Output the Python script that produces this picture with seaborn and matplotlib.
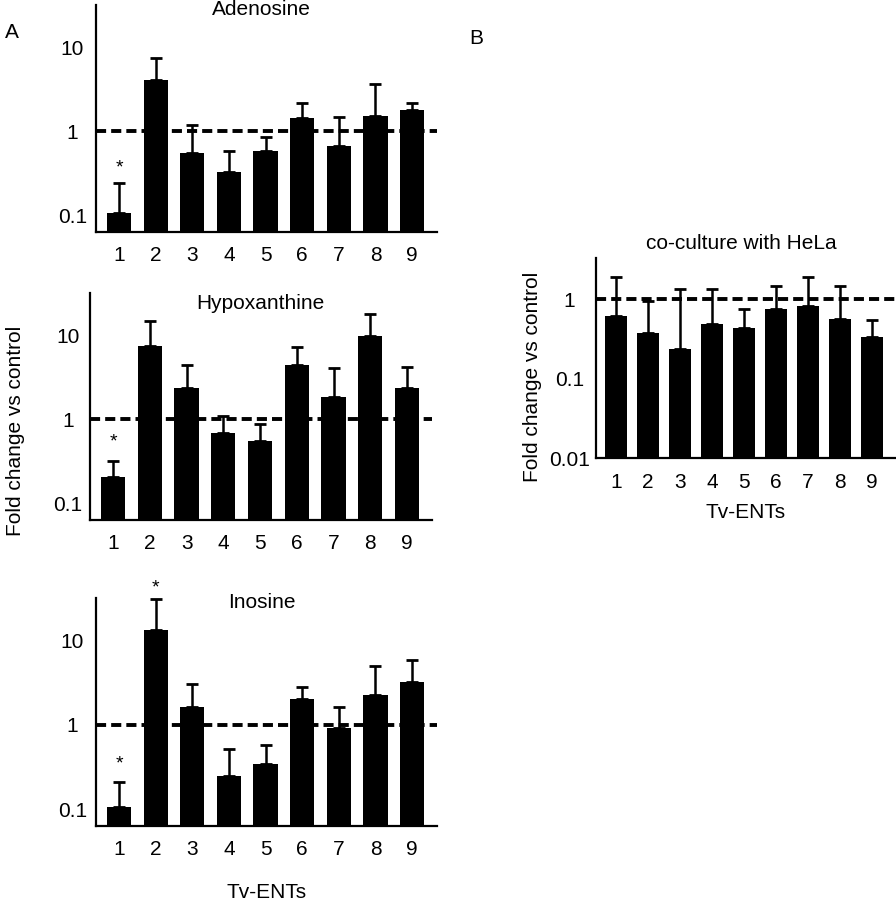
import numpy as np
import matplotlib
matplotlib.use('Agg')
import matplotlib.pyplot as plt
import seaborn as sns

# Tv-ENT isoforms
ents = ['1', '2', '3', '4', '5', '6', '7', '8', '9']

# panel A: fold change (bar) and top of error bar
adenosine = [0.106, 4.05, 0.55, 0.33, 0.59, 1.43, 0.66, 1.51, 1.78]
adenosine_top = [0.24, 7.4, 1.18, 0.59, 0.85, 2.15, 1.47, 3.7, 2.2]
hypoxanthine = [0.205, 7.5, 2.33, 0.69, 0.55, 4.46, 1.85, 9.8, 2.33]
hypoxanthine_top = [0.32, 14.7, 4.46, 1.08, 0.87, 7.3, 4.1, 17.8, 4.26]
inosine = [0.107, 13.5, 1.61, 0.25, 0.34, 2.04, 0.91, 2.28, 3.19]
inosine_top = [0.21, 31.0, 3.05, 0.51, 0.57, 2.78, 1.64, 4.99, 5.94]

# panel B: co-culture with HeLa
hela = [0.62, 0.37, 0.237, 0.49, 0.43, 0.755, 0.82, 0.57, 0.33]
hela_top = [1.93, 0.95, 1.34, 1.34, 0.755, 1.47, 1.93, 1.47, 0.55]

# significance stars: (bar index, y position)
stars_adenosine = [(0, 0.37)]
stars_hypoxanthine = [(0, 0.53)]
stars_inosine = [(0, 0.34), (1, 42.0)]

sns.set_style('white')
plt.rcParams['font.family'] = ['Liberation Sans', 'DejaVu Sans']
plt.rcParams['text.color'] = 'black'
plt.rcParams['xtick.color'] = 'black'
plt.rcParams['ytick.color'] = 'black'
plt.rcParams['axes.labelcolor'] = 'black'
FS = 15


def bar_panel(ax, vals, tops, ylim, yticks, ytlabels, width, xlim, ypad):
    sns.barplot(x=ents, y=vals, color='black', saturation=1, width=width,
                errorbar=None, ax=ax, zorder=2, linewidth=0, edgecolor='black')
    ax.set_yscale('log')
    vals = np.array(vals)
    tops = np.array(tops)
    ax.errorbar(np.arange(len(vals)), vals, yerr=[np.zeros(len(vals)), tops - vals],
                fmt='none', ecolor='black', elinewidth=1.8, capsize=4, capthick=2,
                zorder=1, clip_on=False)
    ax.axhline(1, color='black', lw=2.8, ls=(0, (2.6, 1.3)), zorder=3)
    ax.set_ylim(*ylim)
    ax.set_xlim(*xlim)
    ax.set_yticks(yticks)
    ax.set_yticklabels(ytlabels, ha='center')
    ax.minorticks_off()
    ax.tick_params(axis='y', direction='in', length=3, width=1.2, labelsize=FS, pad=ypad)
    ax.tick_params(axis='x', length=0, labelsize=FS, pad=10)
    for s in ['top', 'right']:
        ax.spines[s].set_visible(False)
    for s in ['left', 'bottom']:
        ax.spines[s].set_linewidth(1.6)
        ax.spines[s].set_color('black')
    ax.set_xlabel('')
    ax.set_ylabel('')
    ax.set_facecolor('white')


def add_stars(ax, stars):
    for i, y in stars:
        ax.text(i, y, '*', ha='center', va='center', fontsize=14, clip_on=False)


fig = plt.figure(figsize=(8.96, 9.0), dpi=100)

xlim_a = (-0.63, 8.68)
ylim_a = (0.063, 32)
ticks_a = [0.1, 1, 10]
tlab_a = ['0.1', '1', '10']

ax1 = fig.add_axes([0.1071, 0.7422, 0.3806, 0.2522])
bar_panel(ax1, adenosine, adenosine_top, ylim_a, ticks_a, tlab_a, 0.66, xlim_a, 17)
add_stars(ax1, stars_adenosine)
ax1.text(0.484, 0.982, 'Adenosine', transform=ax1.transAxes, ha='center', va='center', fontsize=FS)

ax2 = fig.add_axes([0.1004, 0.4222, 0.3817, 0.2522])
bar_panel(ax2, hypoxanthine, hypoxanthine_top, ylim_a, ticks_a, tlab_a, 0.66, xlim_a, 16)
add_stars(ax2, stars_hypoxanthine)
ax2.text(0.497, 0.956, 'Hypoxanthine', transform=ax2.transAxes, ha='center', va='center', fontsize=FS)

ax3 = fig.add_axes([0.1071, 0.0822, 0.3806, 0.2533])
bar_panel(ax3, inosine, inosine_top, ylim_a, ticks_a, tlab_a, 0.66, xlim_a, 17)
add_stars(ax3, stars_inosine)
ax3.text(0.487, 0.982, 'Inosine', transform=ax3.transAxes, ha='center', va='center', fontsize=FS)
ax3.set_xlabel('Tv-ENTs', fontsize=FS, labelpad=17)

ax4 = fig.add_axes([0.6652, 0.4911, 0.3348, 0.2222])
bar_panel(ax4, hela, hela_top, (0.01, 3.3), [0.01, 0.1, 1], ['0.01', '0.1', '1'], 0.68,
          (-0.625, 8.75), 19)
ax4.text(0.483, 1.075, 'co-culture with HeLa', transform=ax4.transAxes, ha='center', va='center', fontsize=FS)
ax4.tick_params(axis='x', pad=11)
ax4.set_xlabel('Tv-ENTs', fontsize=FS, labelpad=8)

fig.text(16 / 896, 1 - 431 / 900, 'Fold change vs control', rotation=90, ha='center', va='center', fontsize=FS)
fig.text(533 / 896, 1 - 377 / 900, 'Fold change vs control', rotation=90, ha='center', va='center', fontsize=FS)
fig.text(12 / 896, 1 - 33 / 900, 'A', ha='center', va='center', fontsize=FS)
fig.text(476 / 896, 1 - 38 / 900, 'B', ha='center', va='center', fontsize=FS)

fig.savefig('out.png', dpi=100, facecolor='white')
